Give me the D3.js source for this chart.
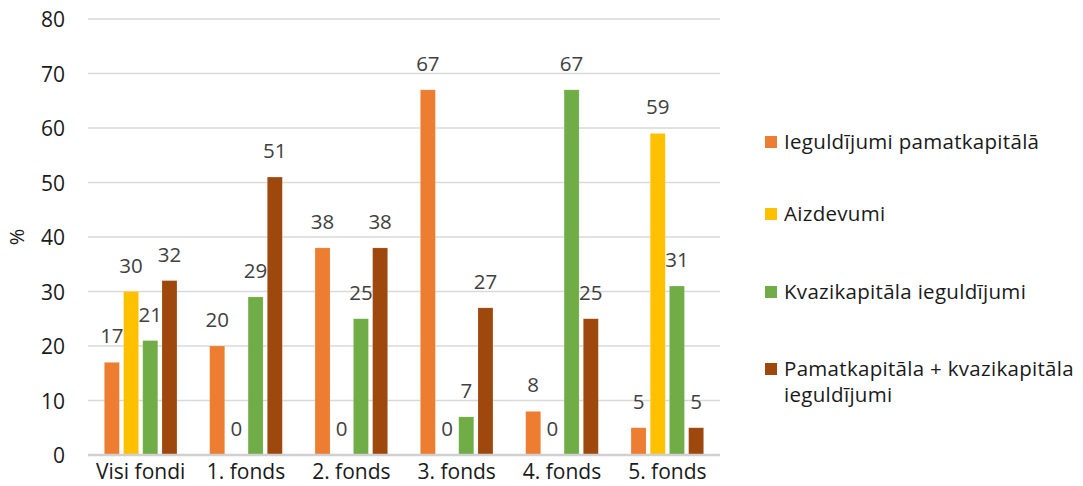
<!DOCTYPE html>
<html>
<head>
<meta charset="utf-8">
<script src="https://cdn.jsdelivr.net/npm/d3@7"></script>
<style>
  body { margin: 0; background: #fff; }
  svg { display: block; font-family: "Open Sans", "Noto Sans", sans-serif; }
</style>
</head>
<body>
<svg id="chart" width="1083" height="486"></svg>
<script>
const categories = ["Visi fondi", "1. fonds", "2. fonds", "3. fonds", "4. fonds", "5. fonds"];
const seriesNames = [
  "Ieguldījumi pamatkapitālā",
  "Aizdevumi",
  "Kvazikapitāla ieguldījumi",
  "Pamatkapitāla + kvazikapitāla ieguldījumi"
];
const seriesColors = ["#ED7D31", "#FFC000", "#70AD47", "#9E480E"];
const equityValues = [17, 20, 38, 67, 8, 5];
const loanValues = [30, 0, 0, 0, 0, 59];
const quasiValues = [21, 29, 25, 7, 67, 31];
const combinedValues = [32, 51, 38, 27, 25, 5];
const yTicks = [0, 10, 20, 30, 40, 50, 60, 70, 80];

const seriesValues = [equityValues, loanValues, quasiValues, combinedValues];

const svg = d3.select("#chart");
const margin = { left: 88, right: 363, top: 19, bottom: 31 };
const W = 1083, H = 486;

const x = d3.scaleBand().domain(categories).range([margin.left, W - margin.right]).paddingInner(0).paddingOuter(0);
const y = d3.scaleLinear().domain([0, 80]).range([H - margin.bottom, margin.top]);

// gridlines
svg.append("g").selectAll("line").data(yTicks.filter(d => d > 0)).join("line")
  .attr("x1", margin.left).attr("x2", W - margin.right)
  .attr("y1", d => y(d)).attr("y2", d => y(d))
  .attr("stroke", "#d9d9d9").attr("stroke-width", 1.5);

// y axis labels
const yAxis = d3.axisLeft(y).tickValues(yTicks).tickSize(0).tickPadding(0);
const yg = svg.append("g").attr("transform", `translate(${margin.left - 23},0)`).call(yAxis);
yg.select(".domain").remove();
yg.selectAll("text").attr("font-size", 21).attr("fill", "#1a1a1a").attr("dy", "0.36em")
  .style("font-family", "'Open Sans', sans-serif");

// y axis title
svg.append("text").attr("transform", `translate(24,${y(40)}) rotate(-90)`)
  .attr("text-anchor", "middle").attr("font-size", 20).attr("fill", "#1a1a1a").text("%");

// bars
const barW = 15, step = 19.2;
const inner = d3.scaleBand().domain(d3.range(4)).range([0, step * 4]);
const groups = svg.append("g").selectAll("g").data(categories).join("g")
  .attr("transform", d => `translate(${x(d) + x.bandwidth() / 2 - (step * 4 - (step - barW)) / 2},0)`);

groups.each(function(cat, ci) {
  const g = d3.select(this);
  seriesValues.forEach((vals, si) => {
    const v = vals[ci];
    const bx = inner(si);
    if (v > 0) {
      g.append("rect")
        .attr("x", bx).attr("width", barW)
        .attr("y", y(v)).attr("height", y(0) - y(v))
        .attr("fill", seriesColors[si])
        .attr("stroke", "#fff").attr("stroke-opacity", 0.25).attr("stroke-width", 0.6);
    }
    g.append("text")
      .attr("x", bx + barW / 2).attr("y", y(v) - 19)
      .attr("text-anchor", "middle").attr("font-size", 20.5).attr("fill", "#404040")
      .text(v);
  });
});

// x axis baseline
svg.append("line").attr("x1", margin.left).attr("x2", W - margin.right)
  .attr("y1", y(0)).attr("y2", y(0)).attr("stroke", "#d0d0d0").attr("stroke-width", 2.4);

// x axis labels
const xAxis = d3.axisBottom(x).tickSize(0).tickPadding(0);
const xg = svg.append("g").attr("transform", `translate(0,${y(0) + 24})`).call(xAxis);
xg.select(".domain").remove();
xg.selectAll("text").attr("font-size", 21).attr("fill", "#1a1a1a").attr("dy", 0)
  .style("font-family", "'Open Sans', sans-serif");

// legend
const legendY = [142, 214, 292, 369];
const lg = svg.append("g");
seriesNames.forEach((name, i) => {
  lg.append("rect").attr("x", 765).attr("y", legendY[i] - 6).attr("width", 12).attr("height", 12)
    .attr("fill", seriesColors[i]);
  if (i === 3) {
    ["Pamatkapitāla + kvazikapitāla", "ieguldījumi"].forEach((line, li) => {
      lg.append("text").attr("x", 784).attr("y", legendY[i] + li * 26).attr("dy", "0.36em")
        .attr("font-size", 20.5).attr("letter-spacing", 0.3).attr("fill", "#1a1a1a").text(line);
    });
  } else {
    lg.append("text").attr("x", 784).attr("y", legendY[i]).attr("dy", "0.36em")
      .attr("font-size", 20.5).attr("letter-spacing", 0.3).attr("fill", "#1a1a1a").text(name);
  }
});
</script>
</body>
</html>
